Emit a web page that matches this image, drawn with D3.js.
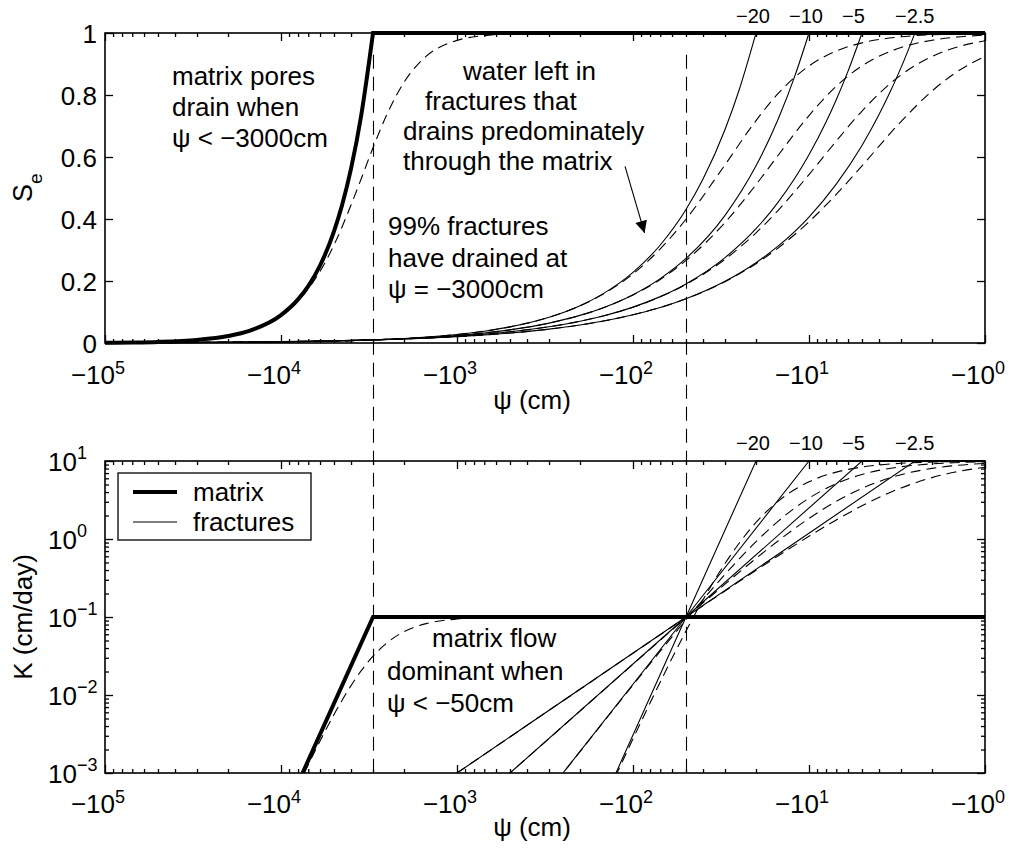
<!DOCTYPE html>
<html>
<head>
<meta charset="utf-8">
<script src="https://cdn.jsdelivr.net/npm/d3@7"></script>
<style>
  body { margin: 0; background: #fff; }
  svg text { font-family: "Liberation Sans", Arial, Helvetica, sans-serif; fill: #000; }
</style>
</head>
<body>
<svg id="chart" width="1009" height="850"></svg>
<script>
// ---------------------------------------------------------------
// Pressure head ψ (cm) and the curves drawn against it
// ---------------------------------------------------------------
const psiExtent = [-100000, -1];
const seExtent = [0, 1];
const kExtent = [0.001, 10];
const seTicks = [0, 0.2, 0.4, 0.6, 0.8, 1];
const seTickLabels = ["0", "0.2", "0.4", "0.6", "0.8", "1"];
const psiDecades = [-100000, -10000, -1000, -100, -10, -1];
const psiDecadeExps = ["5", "4", "3", "2", "1", "0"];
const kDecades = [0.001, 0.01, 0.1, 1, 10];
const kDecadeExps = ["−3", "−2", "−1", "0", "1"];

// fracture air-entry heads and their labels
const fractureAirEntry = [-20, -10, -5, -2.5];
const fractureLabels = ["−20", "−10", "−5", "−2.5"];
// reference heads marked by vertical dashed lines
const thresholds = [-3000, -50];

// Matrix effective saturation, sharp air entry (solid)
const matrixSePsi = [-100000, -70000, -50000, -30000, -20000, -15000, -10000, -8000, -7000, -6000, -5000, -4500, -4000, -3500, -3000];
const matrixSe    = [0.0009, 0.00184, 0.0036, 0.01, 0.0225, 0.04, 0.09, 0.1406, 0.1837, 0.25, 0.36, 0.4444, 0.5625, 0.7347, 1];
// Matrix effective saturation, smooth form (dashed)
const matrixSeSmoothPsi = [-100000, -50000, -30000, -20000, -15000, -10000, -8000, -7000, -6000, -5000, -4000, -3500, -3000, -2500, -2000, -1500, -1000, -700, -500, -300, -100, -1];
const matrixSeSmooth    = [0.0009, 0.0036, 0.01, 0.0224, 0.0398, 0.0884, 0.1359, 0.1747, 0.2311, 0.316, 0.445, 0.53, 0.63, 0.7376, 0.841, 0.9245, 0.976, 0.9916, 0.9969, 0.9993, 1, 1];

// Fracture effective saturation, sharp air entry (solid), one per air-entry head
const fracSePsi = [
  [-100000, -50000, -30000, -20000, -10000, -5000, -3000, -2000, -1000, -700, -500, -300, -200, -150, -100, -70, -50, -40, -30, -25, -20],
  [-100000, -50000, -30000, -20000, -10000, -5000, -3000, -2000, -1000, -700, -500, -300, -200, -150, -100, -70, -50, -30, -20, -15, -12, -10],
  [-100000, -50000, -30000, -20000, -10000, -5000, -3000, -2000, -1000, -700, -500, -300, -200, -150, -100, -70, -50, -30, -20, -15, -10, -8, -7, -6, -5],
  [-100000, -50000, -30000, -20000, -10000, -5000, -3000, -2000, -1000, -700, -500, -300, -200, -150, -100, -70, -50, -30, -20, -15, -10, -7, -5, -4, -3.5, -3, -2.5]
];
const fracSe = [
  [0.000398, 0.000753, 0.001205, 0.001749, 0.003306, 0.00625, 0.01, 0.01452, 0.02744, 0.03808, 0.05191, 0.08299, 0.1205, 0.1569, 0.2278, 0.3162, 0.4307, 0.5289, 0.6888, 0.8146, 1],
  [0.000589, 0.001031, 0.001558, 0.002162, 0.003784, 0.006617, 0.01, 0.01388, 0.02428, 0.03237, 0.04248, 0.06418, 0.08903, 0.1123, 0.1558, 0.2078, 0.2727, 0.4119, 0.5714, 0.7209, 0.8633, 1],
  [0.000801, 0.001319, 0.001906, 0.002551, 0.004203, 0.006923, 0.01, 0.01339, 0.02206, 0.02851, 0.03633, 0.05247, 0.07025, 0.08643, 0.1157, 0.1496, 0.1906, 0.2753, 0.3686, 0.4535, 0.6071, 0.7127, 0.7848, 0.877, 1],
  [0.001025, 0.001609, 0.002242, 0.002917, 0.004575, 0.007178, 0.01, 0.01301, 0.02042, 0.02573, 0.03202, 0.04463, 0.05806, 0.07001, 0.0911, 0.1148, 0.1429, 0.1991, 0.2591, 0.3123, 0.4064, 0.5124, 0.6371, 0.7369, 0.8037, 0.8883, 1]
];
// Fracture effective saturation, smooth form (dashed)
const fracSeSmoothPsi = [-100000, -10000, -3000, -1000, -500, -300, -200, -150, -100, -70, -50, -30, -20, -15, -10, -7, -5, -3, -2, -1.5, -1];
const fracSeSmooth = [
  [0.000398, 0.003306, 0.01, 0.02744, 0.0519, 0.0828, 0.1198, 0.1554, 0.223, 0.3034, 0.3992, 0.5749, 0.7175, 0.8043, 0.8937, 0.9418, 0.9682, 0.9877, 0.9943, 0.9967, 0.9985],
  [0.000589, 0.003784, 0.01, 0.02428, 0.0425, 0.0641, 0.0889, 0.1119, 0.1548, 0.2051, 0.2663, 0.3889, 0.5108, 0.6049, 0.7337, 0.8282, 0.8938, 0.9531, 0.9766, 0.9859, 0.9931],
  [0.000801, 0.004203, 0.01, 0.02206, 0.03631, 0.05245, 0.0702, 0.0863, 0.1154, 0.1489, 0.1891, 0.2701, 0.3553, 0.4274, 0.5434, 0.6514, 0.7481, 0.8647, 0.9243, 0.9515, 0.9748],
  [0.001025, 0.004575, 0.01, 0.02042, 0.03202, 0.0446, 0.05805, 0.0699, 0.091, 0.1146, 0.1424, 0.1978, 0.2558, 0.3061, 0.3912, 0.4795, 0.5717, 0.7142, 0.8129, 0.8685, 0.9245]
];

// Matrix conductivity (cm/day): sharp (solid) and smooth (dashed)
const matrixKPsi = [-7540, -3000, -1];
const matrixK    = [0.001, 0.1, 0.1];
const matrixKSmoothPsi = [-7370, -7000, -6000, -5000, -4000, -3500, -3000, -2500, -2000, -1500, -1000, -700, -500, -300, -100, -1];
const matrixKSmooth    = [0.001, 0.001275, 0.002567, 0.00561, 0.0132, 0.0205, 0.0315, 0.0467, 0.0649, 0.0822, 0.0941, 0.0979, 0.0992, 0.0998, 0.1, 0.1];

// Fracture conductivity, sharp (solid): straight on log-log axes
const fracKPsi = [
  [-125, -50, -20, -1],
  [-250, -50, -10, -1],
  [-500, -50, -5, -1],
  [-1000, -50, -2.5, -1]
];
const fracK = [
  [0.001, 0.1, 10, 10],
  [0.001, 0.1, 10, 10],
  [0.001, 0.1, 10, 10],
  [0.001, 0.1, 10, 10]
];
// Fracture conductivity, smooth form (dashed)
const fracKSmoothPsi = [
  [-300, -200, -150, -125, -100, -70, -50, -40, -30, -25, -20, -15, -10, -7, -5, -3, -2, -1],
  [-1000, -500, -300, -250, -200, -150, -100, -70, -50, -30, -20, -15, -10, -7, -5, -3, -2, -1.5, -1],
  [-1000, -700, -500, -300, -200, -150, -100, -70, -50, -30, -20, -15, -10, -7, -5, -3, -2, -1.5, -1],
  [-2000, -1000, -700, -500, -300, -200, -150, -100, -70, -50, -30, -20, -15, -10, -7, -5, -3, -2, -1.5, -1]
];
const fracKSmooth = [
  [1.21e-5, 9.15e-5, 3.8e-4, 9.29e-4, 0.00274, 0.01472, 0.06603, 0.1663, 0.4846, 0.876, 1.628, 3.04, 5.409, 7.205, 8.379, 9.344, 9.691, 9.917],
  [1.9e-5, 1.38e-4, 5.92e-4, 9.96e-4, 0.00188, 0.00426, 0.01343, 0.03645, 0.09196, 0.3518, 0.9243, 1.684, 3.338, 5.127, 6.717, 8.436, 9.194, 9.508, 9.758],
  [2.5e-4, 5.1e-4, 0.001, 0.00277, 0.00624, 0.01107, 0.02485, 0.05041, 0.09783, 0.2636, 0.5641, 0.9434, 1.837, 3.04, 4.466, 6.677, 8.036, 8.71, 9.316],
  [3.44e-4, 0.001, 0.00173, 0.0029, 0.00636, 0.01184, 0.01843, 0.03434, 0.05934, 0.09928, 0.2158, 0.3969, 0.6068, 1.084, 1.756, 2.662, 4.508, 6.125, 7.162, 8.304]
];

// annotation arrow (ψ, Se) from text to the fracture curves
const arrowFrom = [-111, 0.57];
const arrowTo = [-86, 0.355];

// ---------------------------------------------------------------
// Layout
// ---------------------------------------------------------------
const svg = d3.select("#chart");
const L = 105, R = 985;
const top1 = 33, bot1 = 343;
const top2 = 461, bot2 = 773;
const FONT = 26, SUP = 18, SMALL = 20;
const MAJOR = 8, MINOR = 4;

const x = d3.scaleLog().domain(psiExtent).range([L, R]);
const ySe = d3.scaleLinear().domain(seExtent).range([bot1, top1]);
const yK = d3.scaleLog().domain(kExtent).range([bot2, top2]);

const zip = (a, b) => a.map((v, i) => [v, b[i]]);
const isDecade = v => Math.abs(Math.log10(Math.abs(v)) - Math.round(Math.log10(Math.abs(v)))) < 1e-9;

const psiAll = x.ticks();
const psiMinor = psiAll.filter(v => !isDecade(v));
const kAll = yK.ticks();
const kMinor = kAll.filter(v => !isDecade(v));

// clip regions (lines may overhang the frame by half their width at top/bottom)
const defs = svg.append("defs");
defs.append("clipPath").attr("id", "clipTop").append("rect")
  .attr("x", L).attr("y", top1 - 3).attr("width", R - L).attr("height", bot1 - top1 + 6);
defs.append("clipPath").attr("id", "clipBot").append("rect")
  .attr("x", L).attr("y", top2 - 3).attr("width", R - L).attr("height", bot2 - top2 + 3);

function frame(yTop, yBot, yScale, yMajor, yMinor) {
  const g = svg.append("g");
  const tick = (axis, scale, vals, size, tx, ty) => {
    g.append("g").attr("transform", `translate(${tx},${ty})`)
      .call(axis(scale).tickValues(vals).tickSize(-size).tickFormat("").tickSizeOuter(0))
      .call(s => s.select(".domain").remove())
      .selectAll("line").attr("stroke", "#000").attr("stroke-width", 1.3);
  };
  tick(d3.axisBottom, x, psiDecades, MAJOR, 0, yBot);
  tick(d3.axisBottom, x, psiMinor, MINOR, 0, yBot);
  tick(d3.axisTop, x, psiDecades, MAJOR, 0, yTop);
  tick(d3.axisTop, x, psiMinor, MINOR, 0, yTop);
  tick(d3.axisLeft, yScale, yMajor, MAJOR, L, 0);
  tick(d3.axisRight, yScale, yMajor, MAJOR, R, 0);
  if (yMinor.length) {
    tick(d3.axisLeft, yScale, yMinor, MINOR, L, 0);
    tick(d3.axisRight, yScale, yMinor, MINOR, R, 0);
  }
  g.append("rect").attr("x", L).attr("y", yTop).attr("width", R - L).attr("height", yBot - yTop)
    .attr("fill", "none").attr("stroke", "#000").attr("stroke-width", 1.6);
  return g;
}

function psiTickLabels(baseline) {
  const t = svg.append("g").selectAll("text").data(psiDecades).join("text")
    .attr("x", d => x(d) + 20).attr("y", baseline)
    .attr("text-anchor", "end").attr("font-size", FONT);
  t.append("tspan").text("−10");
  t.append("tspan").attr("font-size", SUP).attr("dy", -10).text((d, i) => psiDecadeExps[i]);
}

// ---------------------------------------------------------------
// Upper panel: effective saturation
// ---------------------------------------------------------------
frame(top1, bot1, ySe, seTicks, []);

svg.append("g").selectAll("text").data(seTicks).join("text")
  .attr("x", L - 8).attr("y", d => ySe(d) + 10)
  .attr("text-anchor", "end").attr("font-size", FONT)
  .text((d, i) => seTickLabels[i]);
psiTickLabels(bot1 + 41);

const lineSe = d3.line().x(d => x(d[0])).y(d => ySe(d[1])).curve(d3.curveMonotoneX);
const plotTop = svg.append("g").attr("clip-path", "url(#clipTop)").attr("fill", "none").attr("stroke", "#000");

// smooth (dashed) forms
plotTop.append("path").attr("d", lineSe(zip(matrixSeSmoothPsi, matrixSeSmooth)))
  .attr("stroke-width", 1.1).attr("stroke-dasharray", "10,6");
fracSeSmooth.forEach(se => {
  plotTop.append("path").attr("d", lineSe(zip(fracSeSmoothPsi, se)))
    .attr("stroke-width", 1.1).attr("stroke-dasharray", "10,6");
});
// sharp (solid) forms: curved rise then flat at full saturation
fracSe.forEach((se, i) => {
  plotTop.append("path")
    .attr("d", lineSe(zip(fracSePsi[i], se)) + `L${x(psiExtent[1])},${ySe(1)}`)
    .attr("stroke-width", 1.1);
});
plotTop.append("path")
  .attr("d", lineSe(zip(matrixSePsi, matrixSe)) + `L${x(psiExtent[1])},${ySe(1)}`)
  .attr("stroke-width", 4).attr("stroke-linejoin", "miter");

// labels of the fracture air-entry heads
svg.append("g").selectAll("text").data(fractureAirEntry).join("text")
  .attr("x", d => x(d) - 20).attr("y", top1 - 10)
  .attr("font-size", SMALL)
  .text((d, i) => fractureLabels[i]);

// axis titles
const seLabel = svg.append("text").attr("font-size", 27)
  .attr("transform", `translate(${L - 73},${(top1 + bot1) / 2 + 14}) rotate(-90)`);
seLabel.append("tspan").text("S");
seLabel.append("tspan").attr("font-size", 19).attr("dy", 10).text("e");

svg.append("text").attr("x", (L + R) / 2 - 13).attr("y", bot1 + 66)
  .attr("text-anchor", "middle").attr("font-size", FONT).text("ψ (cm)");

// annotations
function block(lines, xs, y0, dy) {
  const t = svg.append("text").attr("font-size", FONT);
  lines.forEach((s, i) => t.append("tspan").attr("x", xs[i]).attr("y", y0 + i * dy).text(s));
}
block(["matrix pores", "drain when", "ψ < −3000cm"], [172, 172, 172], 85, 31);
block(["water left in", "fractures that", "drains predominately", "through the matrix"], [463, 425, 403, 403], 80, 30);
block(["99% fractures", "have drained at", "ψ = −3000cm"], [388, 388, 388], 235, 31.5);

defs.append("marker").attr("id", "arrowHead").attr("viewBox", "0 0 10 10")
  .attr("refX", 10).attr("refY", 5).attr("markerWidth", 16).attr("markerHeight", 12)
  .attr("markerUnits", "userSpaceOnUse").attr("orient", "auto")
  .append("path").attr("d", "M0,0L10,5L0,10Z").attr("fill", "#000");
svg.append("line")
  .attr("x1", x(arrowFrom[0])).attr("y1", ySe(arrowFrom[1]))
  .attr("x2", x(arrowTo[0])).attr("y2", ySe(arrowTo[1]))
  .attr("stroke", "#000").attr("stroke-width", 1.1).attr("marker-end", "url(#arrowHead)");

// ---------------------------------------------------------------
// Lower panel: hydraulic conductivity
// ---------------------------------------------------------------
frame(top2, bot2, yK, kDecades, kMinor);

const kl = svg.append("g").selectAll("text").data(kDecades).join("text")
  .attr("x", L - 57).attr("y", d => yK(d) + 10).attr("font-size", FONT);
kl.append("tspan").text("10");
kl.append("tspan").attr("font-size", SUP).attr("dy", -12).text((d, i) => kDecadeExps[i]);
psiTickLabels(bot2 + 40);

const lineK = d3.line().x(d => x(d[0])).y(d => yK(d[1])).curve(d3.curveMonotoneX);
const lineKStraight = d3.line().x(d => x(d[0])).y(d => yK(d[1]));
const plotBot = svg.append("g").attr("clip-path", "url(#clipBot)").attr("fill", "none").attr("stroke", "#000");

plotBot.append("path").attr("d", lineK(zip(matrixKSmoothPsi, matrixKSmooth)))
  .attr("stroke-width", 1.1).attr("stroke-dasharray", "10,6");
fracKSmooth.forEach((k, i) => {
  plotBot.append("path").attr("d", lineK(zip(fracKSmoothPsi[i], k)))
    .attr("stroke-width", 1.1).attr("stroke-dasharray", "10,6");
});
fracK.forEach((k, i) => {
  plotBot.append("path").attr("d", lineKStraight(zip(fracKPsi[i], k))).attr("stroke-width", 1.1);
});
plotBot.append("path").attr("d", lineKStraight(zip(matrixKPsi, matrixK)))
  .attr("stroke-width", 4).attr("stroke-linejoin", "miter");

svg.append("g").selectAll("text").data(fractureAirEntry).join("text")
  .attr("x", d => x(d) - 20).attr("y", top2 - 11)
  .attr("font-size", SMALL)
  .text((d, i) => fractureLabels[i]);

svg.append("text").attr("font-size", FONT).attr("text-anchor", "middle")
  .attr("transform", `translate(${L - 73},${(top2 + bot2) / 2}) rotate(-90)`)
  .text("K (cm/day)");
svg.append("text").attr("x", (L + R) / 2 - 13).attr("y", bot2 + 63)
  .attr("text-anchor", "middle").attr("font-size", FONT).text("ψ (cm)");

block(["matrix flow", "dominant when", "ψ < −50cm"], [432, 387, 387], 647, 32.5);

// legend
const lg = svg.append("g");
lg.append("rect").attr("x", 118).attr("y", 473).attr("width", 193).attr("height", 67)
  .attr("fill", "#fff").attr("stroke", "#000").attr("stroke-width", 1.3);
const legendItems = [{ name: "matrix", w: 4 }, { name: "fractures", w: 1.1 }];
legendItems.forEach((d, i) => {
  lg.append("line").attr("x1", 133).attr("x2", 177).attr("y1", 492 + i * 30).attr("y2", 492 + i * 30)
    .attr("stroke", "#000").attr("stroke-width", d.w);
  lg.append("text").attr("x", 193).attr("y", 501 + i * 30).attr("font-size", FONT).text(d.name);
});

// ---------------------------------------------------------------
// Reference heads spanning both panels
// ---------------------------------------------------------------
svg.append("g").selectAll("line").data(thresholds).join("line")
  .attr("x1", d => Math.round(x(d)) + 0.5).attr("x2", d => Math.round(x(d)) + 0.5)
  .attr("y1", ySe(0.93)).attr("y2", yK(kExtent[0]))
  .attr("stroke", "#000").attr("stroke-width", 1.1).attr("stroke-dasharray", "14,8");
</script>
</body>
</html>
